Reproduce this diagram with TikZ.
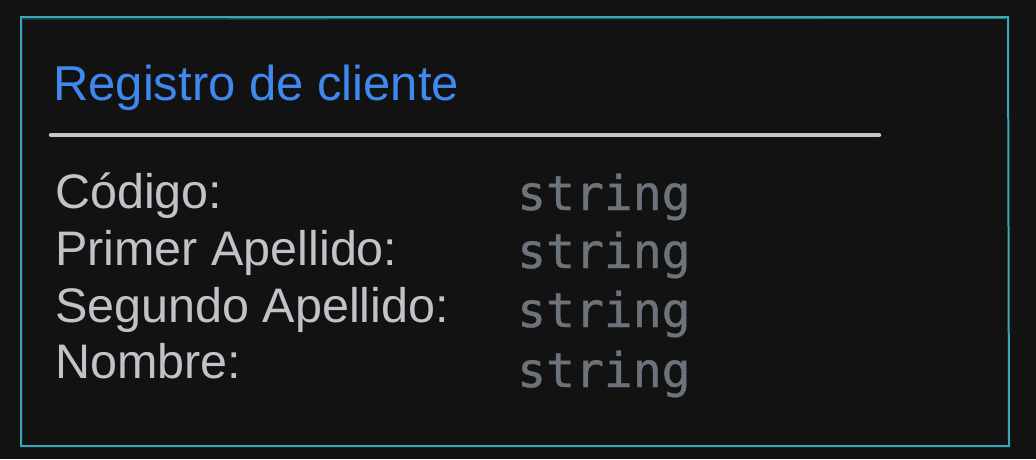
\documentclass[tikz,border=0pt]{standalone}
\usepackage{fontspec}
\setmainfont{Liberation Sans}
\newfontfamily\monof[FakeBold=0.8]{DejaVu Sans Mono}
\definecolor{bgc}{HTML}{121212}
\definecolor{frame}{HTML}{3AA6B6}
\definecolor{titlec}{HTML}{3F88EE}
\definecolor{labc}{HTML}{C0C4C9}
\definecolor{valc}{HTML}{6C737A}
\definecolor{rulec}{HTML}{C3C5C8}
\tikzset{
  lab/.style={anchor=base west, inner sep=0pt, text=labc, font=\fontsize{48.5}{50}\selectfont},
  val/.style={anchor=base west, inner sep=0pt, text=valc, font=\monof\fontsize{48}{50}\selectfont},
  ttl/.style={anchor=base west, inner sep=0pt, text=titlec, font=\fontsize{49}{52}\selectfont}
}
\begin{document}
\begin{tikzpicture}[x=1pt,y=-1pt]
\fill[bgc] (0,0) rectangle (1036,459);
\useasboundingbox (0,0) rectangle (1036,459);
\draw[frame, line width=2pt] (21,17) -- (1008,17) -- (1009,446) -- (21,446) -- cycle;
\draw[frame!70!bgc, line width=0.8pt] (23,19) -- (1006,18.5);
\node[ttl] (title) at (53,100) {Registro de cliente};
\draw[rulec, line width=4.5pt, line cap=round] (51,135) -- (879,135);
\node[lab] (l1) at (55,208) {Código:};
\node[lab] (l2) at (55,265) {Primer Apellido:};
\node[lab] (l3) at (55,322) {Segundo Apellido:};
\node[lab] (l4) at (55,378) {Nombre:};
\node[val] (v1) at (517,210) {string};
\node[val] (v2) at (517,268) {string};
\node[val] (v3) at (517,327) {string};
\node[val] (v4) at (517,387) {string};
\end{tikzpicture}
\end{document}
